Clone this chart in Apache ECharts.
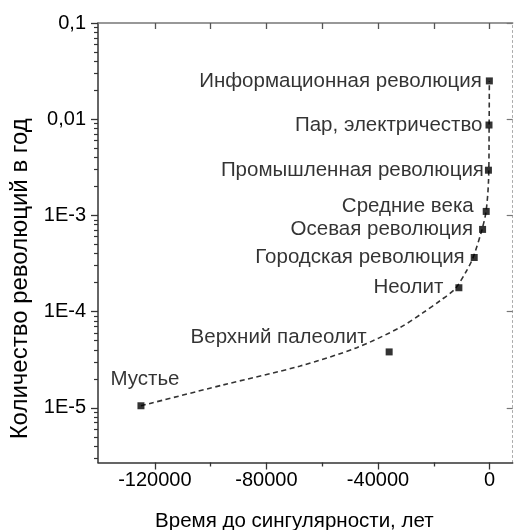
<!DOCTYPE html>
<html><head><meta charset="utf-8">
<script src="https://cdn.jsdelivr.net/npm/echarts@6/dist/echarts.min.js"></script>
<style>html,body{margin:0;padding:0;background:#fff}#c{width:514px;height:530px}</style>
</head><body><div id="c"></div>
<script>
// ---- data ----
const eventNames = ['Информационная революция', 'Пар, электричество', 'Промышленная революция',
  'Средние века', 'Осевая революция', 'Городская революция', 'Неолит', 'Верхний палеолит', 'Мустье'];
const eventTime = [-70, -200, -400, -1200, -2500, -5500, -11000, -36000, -125000];
const eventRate = [0.025, 0.0087, 0.00295, 0.0011, 0.000715, 0.000365, 0.000177, 0.0000381, 0.0000105];

const fitTime = [-125000, -95500, -67900, -47600, -32100, -23700, -17700, -12400, -8200, -5900, -2700, -1250, -360, -150, -70];
const fitRate = [0.0000105, 0.0000173, 0.0000272, 0.0000422, 0.0000684, 0.000098, 0.00013, 0.000172, 0.000267, 0.000365, 0.000715, 0.0011, 0.00232, 0.0087, 0.025];

const xMajorTicks = [-120000, -80000, -40000, 0];
const xMinorTicks = [-100000, -60000, -20000];
const yMajorTicks = [0.00001, 0.0001, 0.001, 0.01, 0.1];
const yTickLabels = ['1E-5', '1E-4', '1E-3', '0,01', '0,1'];

// ---- label placement (style) ----
const labelLayout = [
  {pos: 'left', off: [-4, 0]},
  {pos: 'left', off: [-3, 0]},
  {pos: 'left', off: [-1, 0]},
  {pos: 'left', off: [-9, -5]},
  {pos: 'left', off: [-6, 0]},
  {pos: 'left', off: [-6, 0]},
  {pos: 'left', off: [-12, 0]},
  {pos: 'left', off: [-19, -15]},
  {pos: 'top', off: [4, -12]}
];

const yMinorTicks = [];
for (let e = -6; e <= -2; e++) for (let m = 2; m <= 9; m++) yMinorTicks.push(m * Math.pow(10, e));

const X_MIN = -140400, X_MAX = 8300, Y_MIN = 0.0000027, Y_MAX = 0.1;
const FONT = 'Liberation Sans, Arial, sans-serif';

const chart = echarts.init(document.getElementById('c'), null, {renderer: 'canvas'});
const xAll = xMajorTicks.concat(xMinorTicks);

chart.setOption({
  animation: false,
  backgroundColor: '#fff',
  grid: {left: 98, right: 1.3, top: 23, bottom: 67.5, containLabel: false, outerBoundsMode: 'none'},
  xAxis: [
    {
      type: 'value', position: 'bottom', min: X_MIN, max: X_MAX,
      name: 'Время до сингулярности, лет', nameLocation: 'middle', nameGap: 48,
      nameTextStyle: {fontFamily: FONT, fontSize: 20.5, color: '#000', padding: [0, 22, 0, 0]},
      axisLine: {show: true, onZero: false, lineStyle: {color: '#333', width: 1.5}},
      axisTick: {show: true, inside: false, length: 7, customValues: xMajorTicks, lineStyle: {color: '#333', width: 1.3}},
      axisLabel: {show: true, customValues: xMajorTicks, margin: 8, fontFamily: FONT, fontSize: 20, color: '#000',
        formatter: v => String(v)},
      splitLine: {show: false}
    },
    {
      type: 'value', position: 'bottom', min: X_MIN, max: X_MAX,
      axisLine: {show: false, onZero: false},
      axisTick: {show: true, inside: false, length: 4, customValues: xMinorTicks, lineStyle: {color: '#333', width: 1.3}},
      axisLabel: {show: false}, splitLine: {show: false}
    },
    {
      type: 'value', position: 'top', min: X_MIN, max: X_MAX,
      axisLine: {show: true, onZero: false, lineStyle: {color: '#777', width: 1.5}},
      axisTick: {show: true, inside: true, length: 6, customValues: xAll, lineStyle: {color: '#555', width: 1.3}},
      axisLabel: {show: false}, splitLine: {show: false}
    }
  ],
  yAxis: [
    {
      type: 'log', position: 'left', min: Y_MIN, max: Y_MAX,
      name: 'Количество революций в год', nameLocation: 'middle', nameGap: 65, nameRotate: 90,
      nameTextStyle: {fontFamily: FONT, fontSize: 24, color: '#000', padding: [0, 72, 0, 0]},
      axisLine: {show: true, onZero: false, lineStyle: {color: '#333', width: 1.5}},
      axisTick: {show: true, inside: false, length: 7, customValues: yMajorTicks, lineStyle: {color: '#333', width: 1.3}},
      axisLabel: {show: true, customValues: yMajorTicks, margin: 12, fontFamily: FONT, fontSize: 20, color: '#000',
        formatter: v => {
          let best = 0, d = Infinity;
          yMajorTicks.forEach((t, i) => { const dd = Math.abs(Math.log10(t) - Math.log10(v)); if (dd < d) { d = dd; best = i; } });
          return yTickLabels[best];
        }},
      splitLine: {show: false}
    },
    {
      type: 'log', position: 'left', min: Y_MIN, max: Y_MAX,
      axisLine: {show: false, onZero: false},
      axisTick: {show: true, inside: false, length: 4, customValues: yMinorTicks, lineStyle: {color: '#333', width: 1.2}},
      axisLabel: {show: false}, splitLine: {show: false}
    },
    {
      type: 'log', position: 'right', min: Y_MIN, max: Y_MAX,
      axisLine: {show: true, onZero: false, lineStyle: {color: '#aaa', width: 1, type: [2, 3]}},
      axisTick: {show: true, inside: true, length: 6, customValues: yMajorTicks, lineStyle: {color: '#777', width: 1.2}},
      axisLabel: {show: false}, splitLine: {show: false}
    }
  ],
  series: [
    {
      type: 'line', name: 'fit', xAxisIndex: 0, yAxisIndex: 0,
      data: fitTime.map((t, i) => [t, fitRate[i]]),
      showSymbol: false, symbol: 'none', smooth: 0.3, z: 2,
      lineStyle: {color: '#333', width: 1.6, type: [5, 3.5]}
    },
    {
      type: 'scatter', name: 'events', xAxisIndex: 0, yAxisIndex: 0,
      symbol: 'rect', symbolSize: 7, z: 3,
      itemStyle: {color: '#000'},
      data: eventTime.map((t, i) => ({
        value: [t, eventRate[i]], name: eventNames[i],
        label: {show: true, position: labelLayout[i].pos, distance: 0, offset: labelLayout[i].off,
          formatter: eventNames[i], fontFamily: FONT, fontSize: 20.5, color: '#000'}
      }))
    }
  ]
});
</script>
</body></html>
